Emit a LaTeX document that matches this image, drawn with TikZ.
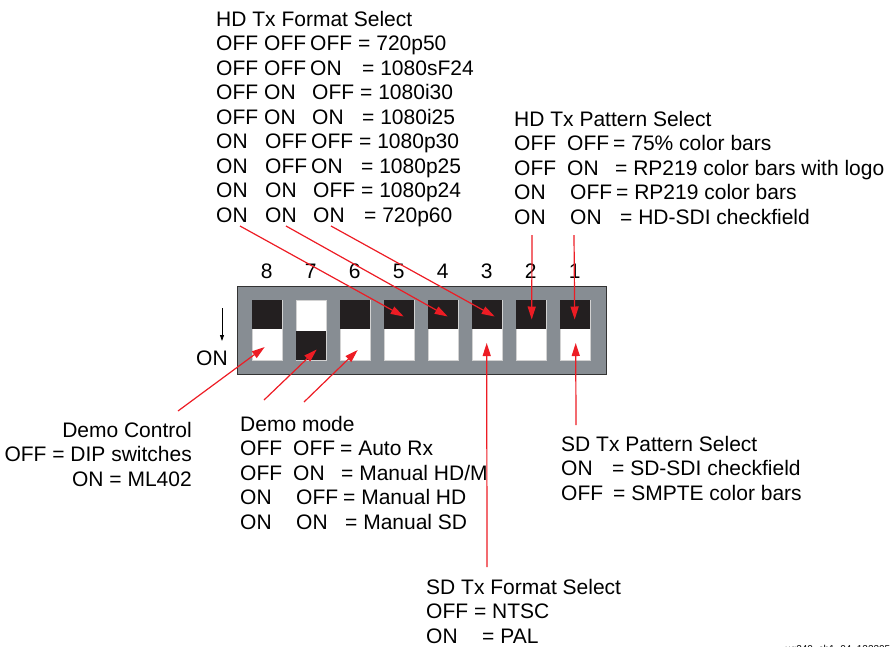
\documentclass[tikz,border=0pt]{standalone}
\usepackage{fontspec}
\setmainfont{Liberation Sans}
\usetikzlibrary{arrows.meta}

\definecolor{boxgray}{HTML}{878D93}
\definecolor{knob}{HTML}{231F20}
\definecolor{callout}{HTML}{ED1C24}
\newcommand{\swcol}[2]{\makebox[#1pt][l]{#2}}

\begin{document}
\begin{tikzpicture}[x=1pt,y=-1pt,
    lbl/.style={inner sep=0pt,align=left,font=\fontsize{21}{24.5}\selectfont},
    slot/.style={draw=gray!35,fill=white,minimum width=30pt,minimum height=60pt,inner sep=0pt},
    knobbox/.style={fill=knob,minimum width=30pt,minimum height=29pt,inner sep=0pt},
    callarrow/.style={callout,line width=1.2pt,-{Triangle[length=13pt,width=8pt]}}]
	\useasboundingbox (0,0) rectangle (893,646);

	% DIP switch body
	\node[draw=black!80,fill=boxgray,minimum width=369pt,minimum height=88pt,inner sep=0pt] (dip) at (421.5,330) {};
	\foreach \k in {1,...,8} {
		\node[slot] (s\k) at ({266.7+44*(8-\k)},330) {};
		\node[lbl] (n\k) at ({266.7+44*(8-\k)},271) {\k};
	}
	\foreach \k in {1,2,3,4,5,6,8}
		\node[knobbox,anchor=north] (top\k) at (s\k.north) {};
	\node[knobbox,anchor=south] (bot7) at (s7.south) {};

	\node[lbl,anchor=base west] (onlbl) at (196,365) {ON};
	\coordinate (ondir) at (222,308);
	\draw[line width=0.8pt,-{Triangle[length=6pt,width=4pt]}] (ondir) -- ++(0,33);

	% labels (anchored on the baseline of their last line)
	\node[lbl,anchor=base west] (hdfmt) at (216,222) {HD Tx Format Select\\
		\swcol{48}{OFF}\swcol{46}{OFF}\swcol{48}{OFF}= 720p50\\
		\swcol{48}{OFF}\swcol{46}{OFF}\swcol{52}{ON}= 1080sF24\\
		\swcol{48}{OFF}\swcol{48}{ON}\swcol{48}{OFF}= 1080i30\\
		\swcol{48}{OFF}\swcol{48}{ON}\swcol{50}{ON}= 1080i25\\
		\swcol{49}{ON}\swcol{46}{OFF}\swcol{48}{OFF}= 1080p30\\
		\swcol{49}{ON}\swcol{46}{OFF}\swcol{50}{ON}= 1080p25\\
		\swcol{49}{ON}\swcol{48}{ON}\swcol{48}{OFF}= 1080p24\\
		\swcol{49}{ON}\swcol{48}{ON}\swcol{51}{ON}= 720p60};
	\node[lbl,anchor=base west] (hdpat) at (514,224) {HD Tx Pattern Select\\
		\swcol{53}{OFF}\swcol{46}{OFF}= 75\% color bars\\
		\swcol{53}{OFF}\swcol{48}{ON}= RP219 color bars with logo\\
		\swcol{56}{ON}\swcol{46}{OFF}= RP219 color bars\\
		\swcol{56}{ON}\swcol{50}{ON}= HD-SDI checkfield};
	\node[lbl,anchor=base east,align=right] (democtl) at (192,486) {Demo Control\\
		OFF = DIP switches\\
		ON = ML402};
	\node[lbl,anchor=base west] (demomode) at (240,529) {Demo mode\\
		\swcol{53}{OFF}\swcol{47}{OFF}= Auto Rx\\
		\swcol{53}{OFF}\swcol{48}{ON}= Manual HD/M\\
		\swcol{56}{ON}\swcol{47}{OFF}= Manual HD\\
		\swcol{56}{ON}\swcol{49}{ON}= Manual SD};
	\node[lbl,anchor=base west] (sdpat) at (561,500) {SD Tx Pattern Select\\
		\swcol{51}{ON}= SD-SDI checkfield\\
		\swcol{52}{OFF}= SMPTE color bars};
	\node[lbl,anchor=base west] (sdfmt) at (426,643) {SD Tx Format Select\\
		OFF = NTSC\\
		\swcol{56}{ON}= PAL};
	\node[inner sep=0pt,anchor=base west,font=\fontsize{10}{12}\selectfont] (figid) at (785,652) {ug240\_ch1\_04\_122305};

	% callouts
	\coordinate (f1) at (240,226);
	\coordinate (f2) at (286,226);
	\coordinate (f3) at (331,226);
	\coordinate (p2) at (532,235);
	\coordinate (p1) at (574,235);
	\coordinate (dc) at (178,411);
	\coordinate (dm1) at (264,400);
	\coordinate (dm2) at (304,402);
	\coordinate (sf) at (487,567);
	\coordinate (sp) at (576,425);
	\draw[callarrow] (f1) -- ([xshift=5pt,yshift=-2pt]top5.center);
	\draw[callarrow] (f2) -- ([xshift=5pt,yshift=-2pt]top4.center);
	\draw[callarrow] (f3) -- ([xshift=8pt,yshift=-2pt]top3.center);
	\draw[callarrow] (p2) -- ([xshift=1pt,yshift=-5pt]top2.center);
	\draw[callarrow] (p1) -- ([yshift=-5pt]top1.center);
	\draw[callarrow] (dc) -- ([xshift=-2pt,yshift=-17pt]s8.center);
	\draw[callarrow] (dm1) -- ([xshift=6pt,yshift=-4pt]bot7.center);
	\draw[callarrow] (dm2) -- ([xshift=3pt,yshift=-20pt]s6.center);
	\draw[callarrow] (sf) -- ([yshift=-13pt]s3.center);
	\draw[callarrow] (sp) -- ([xshift=1pt,yshift=-13pt]s1.center);
\end{tikzpicture}
\end{document}
